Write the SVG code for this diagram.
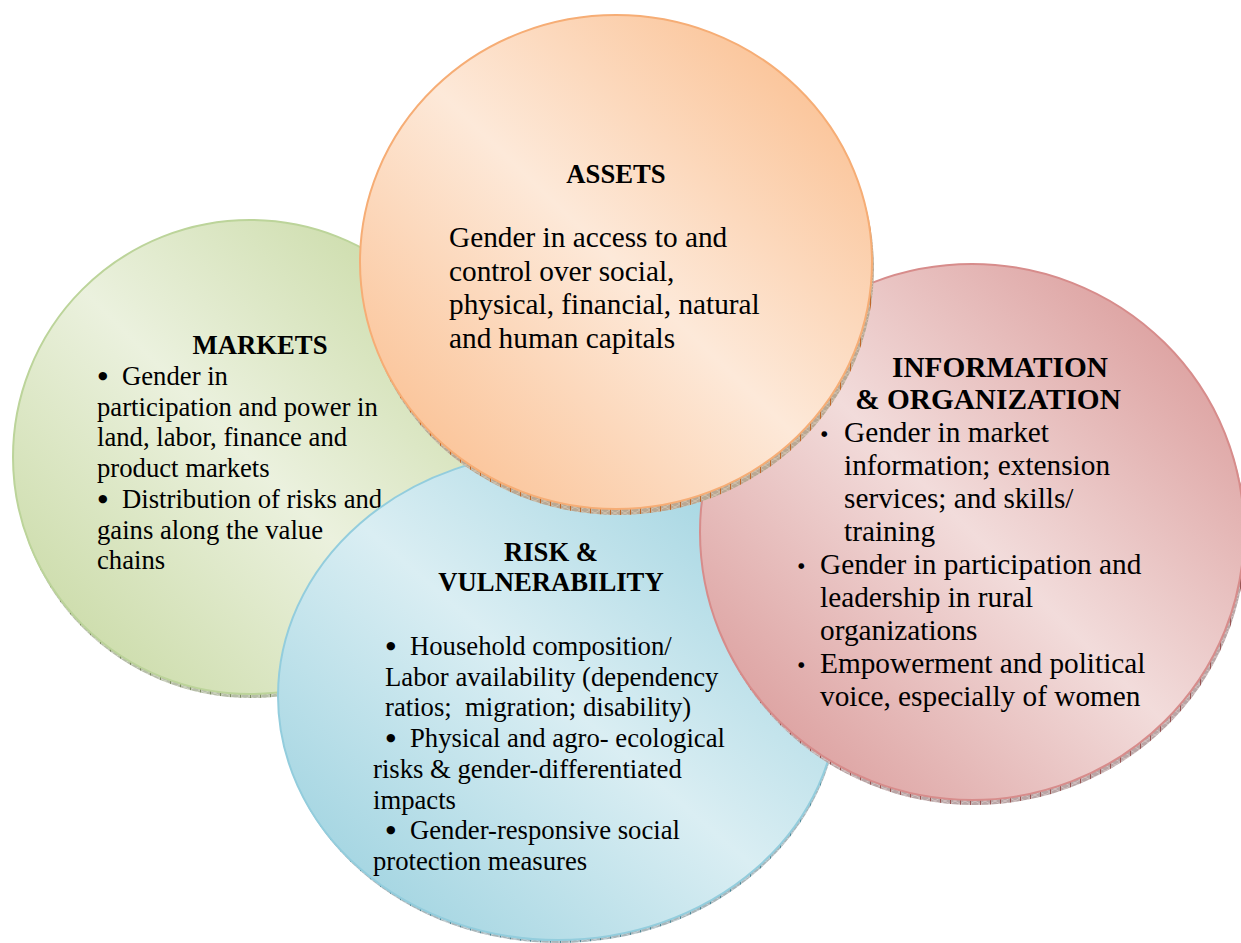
<svg xmlns="http://www.w3.org/2000/svg" width="1241" height="943" viewBox="0 0 1241 943">
<defs>
  <linearGradient id="gGreen" x1="1" y1="0" x2="0" y2="1">
    <stop offset="0" stop-color="#c3d69b"/><stop offset="0.5" stop-color="#ebf1de"/><stop offset="1" stop-color="#c3d69b"/>
  </linearGradient>
  <linearGradient id="gOrange" x1="1" y1="0" x2="0" y2="1">
    <stop offset="0" stop-color="#fab884"/><stop offset="0.5" stop-color="#fde9d9"/><stop offset="1" stop-color="#fab884"/>
  </linearGradient>
  <linearGradient id="gRed" x1="1" y1="0" x2="0" y2="1">
    <stop offset="0" stop-color="#d68f8e"/><stop offset="0.5" stop-color="#f2dcdb"/><stop offset="1" stop-color="#d68f8e"/>
  </linearGradient>
  <linearGradient id="gBlue" x1="1" y1="0" x2="0" y2="1">
    <stop offset="0" stop-color="#92cddc"/><stop offset="0.5" stop-color="#daeef3"/><stop offset="1" stop-color="#92cddc"/>
  </linearGradient>
  <pattern id="rimGreen" width="10" height="6" patternUnits="userSpaceOnUse">
    <rect width="10" height="6" fill="#b7bea9"/>
    <path d="M0 0 L10 6 M0 6 L10 0" stroke="#d3d8c6" stroke-width="0.8"/>
    <line x1="0.5" y1="0" x2="0.5" y2="6" stroke="#7d8c63" stroke-width="1"/>
  </pattern>
  <pattern id="rimOrange" width="10" height="6" patternUnits="userSpaceOnUse">
    <rect width="10" height="6" fill="#b9a894"/>
    <path d="M0 0 L10 6 M0 6 L10 0" stroke="#d6c6b2" stroke-width="0.8"/>
    <line x1="0.5" y1="0" x2="0.5" y2="6" stroke="#c0682a" stroke-width="1"/>
  </pattern>
  <pattern id="rimRed" width="10" height="6" patternUnits="userSpaceOnUse">
    <rect width="10" height="6" fill="#b9a6a6"/>
    <path d="M0 0 L10 6 M0 6 L10 0" stroke="#d8c6c6" stroke-width="0.8"/>
    <line x1="0.5" y1="0" x2="0.5" y2="6" stroke="#9a5554" stroke-width="1"/>
  </pattern>
  <pattern id="rimBlue" width="10" height="6" patternUnits="userSpaceOnUse">
    <rect width="10" height="6" fill="#a9b6ba"/>
    <path d="M0 0 L10 6 M0 6 L10 0" stroke="#c9d6da" stroke-width="0.8"/>
    <line x1="0.5" y1="0" x2="0.5" y2="6" stroke="#4f8a99" stroke-width="1"/>
  </pattern>
</defs>
<style>
  text{font-family:"Liberation Serif","Times New Roman",serif;fill:#000}
  .h{font-weight:bold;font-size:26.7px;text-anchor:middle}
  .hl{font-weight:bold;font-size:29.3px;text-anchor:middle}
  .s{font-size:26.7px}
  .l{font-size:29.3px}
  .bb{font-family:"DejaVu Sans",sans-serif;font-size:11px}
  .dot{font-family:"DejaVu Sans",sans-serif;font-size:7.5px}
</style>
<rect width="1241" height="943" fill="#ffffff"/>

<g id="markets">
  <circle cx="251" cy="461" r="237" fill="url(#rimGreen)"/>
  <circle cx="250" cy="457" r="237" fill="url(#gGreen)" stroke="#bcd49a" stroke-width="2"/>
  <text class="h" x="260" y="354">MARKETS</text>
  <text class="bb" x="98" y="379">●</text>
  <text class="s" x="122" y="385">Gender in</text>
  <text class="s" x="97" y="415.7">participation and power in</text>
  <text class="s" x="97" y="446.4">land, labor, finance and</text>
  <text class="s" x="97" y="477">product markets</text>
  <text class="bb" x="98" y="501.8">●</text>
  <text class="s" x="122" y="507.8">Distribution of risks and</text>
  <text class="s" x="97" y="538.5">gains along the value</text>
  <text class="s" x="97" y="569">chains</text>
</g>

<g id="risk">
  <ellipse cx="559" cy="699" rx="280" ry="244" fill="url(#rimBlue)"/>
  <ellipse cx="558" cy="696" rx="280" ry="244" fill="url(#gBlue)" stroke="#93cddd" stroke-width="2"/>
  <text class="h" x="551" y="561">RISK &amp;</text>
  <text class="h" x="551" y="591">VULNERABILITY</text>
  <text class="bb" x="386" y="649">●</text>
  <text class="s" x="410" y="655">Household composition/</text>
  <text class="s" x="385" y="685.7">Labor availability (dependency</text>
  <text class="s" x="385" y="716.4" xml:space="preserve">ratios;  migration; disability)</text>
  <text class="bb" x="386" y="741.1">●</text>
  <text class="s" x="410" y="747.1">Physical and agro- ecological</text>
  <text class="s" x="373" y="777.8">risks &amp; gender-differentiated</text>
  <text class="s" x="373" y="808.5">impacts</text>
  <text class="bb" x="386" y="833.2">●</text>
  <text class="s" x="410" y="839.2">Gender-responsive social</text>
  <text class="s" x="373" y="869.9">protection measures</text>
</g>

<g id="information">
  <ellipse cx="974" cy="537" rx="272" ry="268" fill="url(#rimRed)"/>
  <ellipse cx="972" cy="532" rx="272" ry="268" fill="url(#gRed)" stroke="#d78c8b" stroke-width="2"/>
  <text class="hl" x="1000" y="377">INFORMATION</text>
  <text class="hl" x="988" y="409">&amp; ORGANIZATION</text>
  <text class="dot" x="821" y="435.5">●</text>
  <text class="l" x="844" y="441.5">Gender in market</text>
  <text class="l" x="844" y="474.5">information; extension</text>
  <text class="l" x="844" y="507.5">services; and skills/</text>
  <text class="l" x="844" y="540.5">training</text>
  <text class="dot" x="798" y="567.5">●</text>
  <text class="l" x="820" y="573.5">Gender in participation and</text>
  <text class="l" x="820" y="606.5">leadership in rural</text>
  <text class="l" x="820" y="639.5">organizations</text>
  <text class="dot" x="798" y="666.5">●</text>
  <text class="l" x="820" y="672.5">Empowerment and political</text>
  <text class="l" x="820" y="705.5">voice, especially of women</text>
</g>

<g id="assets">
  <ellipse cx="618" cy="268" rx="256" ry="247" fill="url(#rimOrange)"/>
  <ellipse cx="616" cy="262" rx="256" ry="247" fill="url(#gOrange)" stroke="#f6ad75" stroke-width="2"/>
  <text class="h" x="616" y="183">ASSETS</text>
  <text class="l" x="449" y="247">Gender in access to and</text>
  <text class="l" x="449" y="280.5">control over social,</text>
  <text class="l" x="449" y="314">physical, financial, natural</text>
  <text class="l" x="449" y="347.5">and human capitals</text>
</g>

<g id="connectors"></g>
</svg>
